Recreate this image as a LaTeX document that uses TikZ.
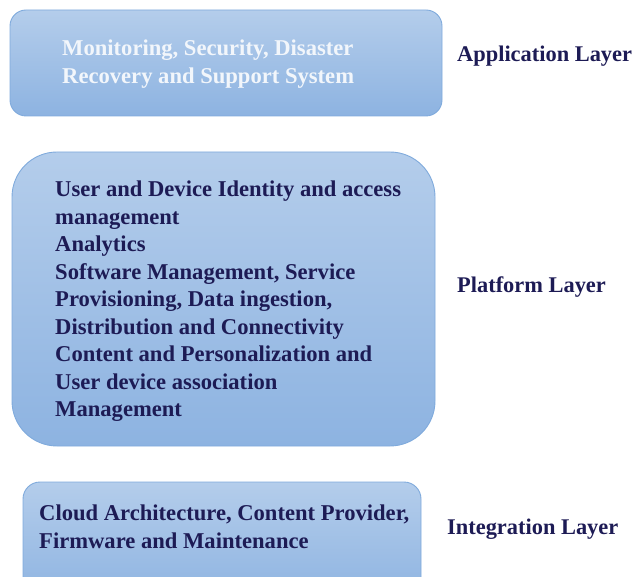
\documentclass[tikz,border=0pt]{standalone}
\usepackage{fontspec}
\setmainfont{Liberation Serif}
\begin{document}
\definecolor{boxtop}{HTML}{B4CDEB}
\definecolor{boxbot}{HTML}{8DB3E1}
\definecolor{boxedge}{HTML}{7FAADC}
\definecolor{navy}{HTML}{1D1B55}
\definecolor{paletext}{HTML}{F2F6FB}
\begin{tikzpicture}[x=1pt,y=-1pt,
  layerbox/.style={draw=boxedge, line width=0.9pt, top color=boxtop, bottom color=boxbot,
    inner sep=0pt, outer sep=0pt},
  boxtext/.style={anchor=north west, inner sep=0pt, align=left, font=\bfseries\fontsize{22.6}{28}\selectfont},
  layername/.style={anchor=base west, inner sep=0pt, text=navy, font=\bfseries\fontsize{22.4}{28}\selectfont}]
  \useasboundingbox (0,0) rectangle (632,577);
  \clip (0,0) rectangle (632,577);

  % layer boxes
  \node[layerbox, rounded corners=16pt, minimum width=432pt, minimum height=106pt] (app) at (226,63) {};
  \node[layerbox, rounded corners=45pt, minimum width=423pt, minimum height=294pt] (plat) at (223.5,299) {};
  \node[layerbox, rounded corners=17pt, minimum width=398pt, minimum height=120pt] (integ) at (222,542) {};

  % box contents
  \node[boxtext, text=paletext] (apptext) at (62,40)
    {Monitoring, Security, Disaster\\Recovery and Support System};
  \node[boxtext, text=navy, font=\bfseries\fontsize{22.6}{27.5}\selectfont] (plattext) at (55,181)
    {User and Device Identity and access\\management\\Analytics\\Software Management, Service\\Provisioning, Data ingestion,\\Distribution and Connectivity\\Content and Personalization and\\User device association\\Management};
  \node[boxtext, text=navy] (integtext) at (39,505)
    {Cloud Architecture, Content Provider,\\Firmware and Maintenance};

  % layer names
  \node[layername] (appname) at (457,62) {Application Layer};
  \node[layername] (platname) at (457,293) {Platform Layer};
  \node[layername] (integname) at (447,534) {Integration Layer};
\end{tikzpicture}
\end{document}
